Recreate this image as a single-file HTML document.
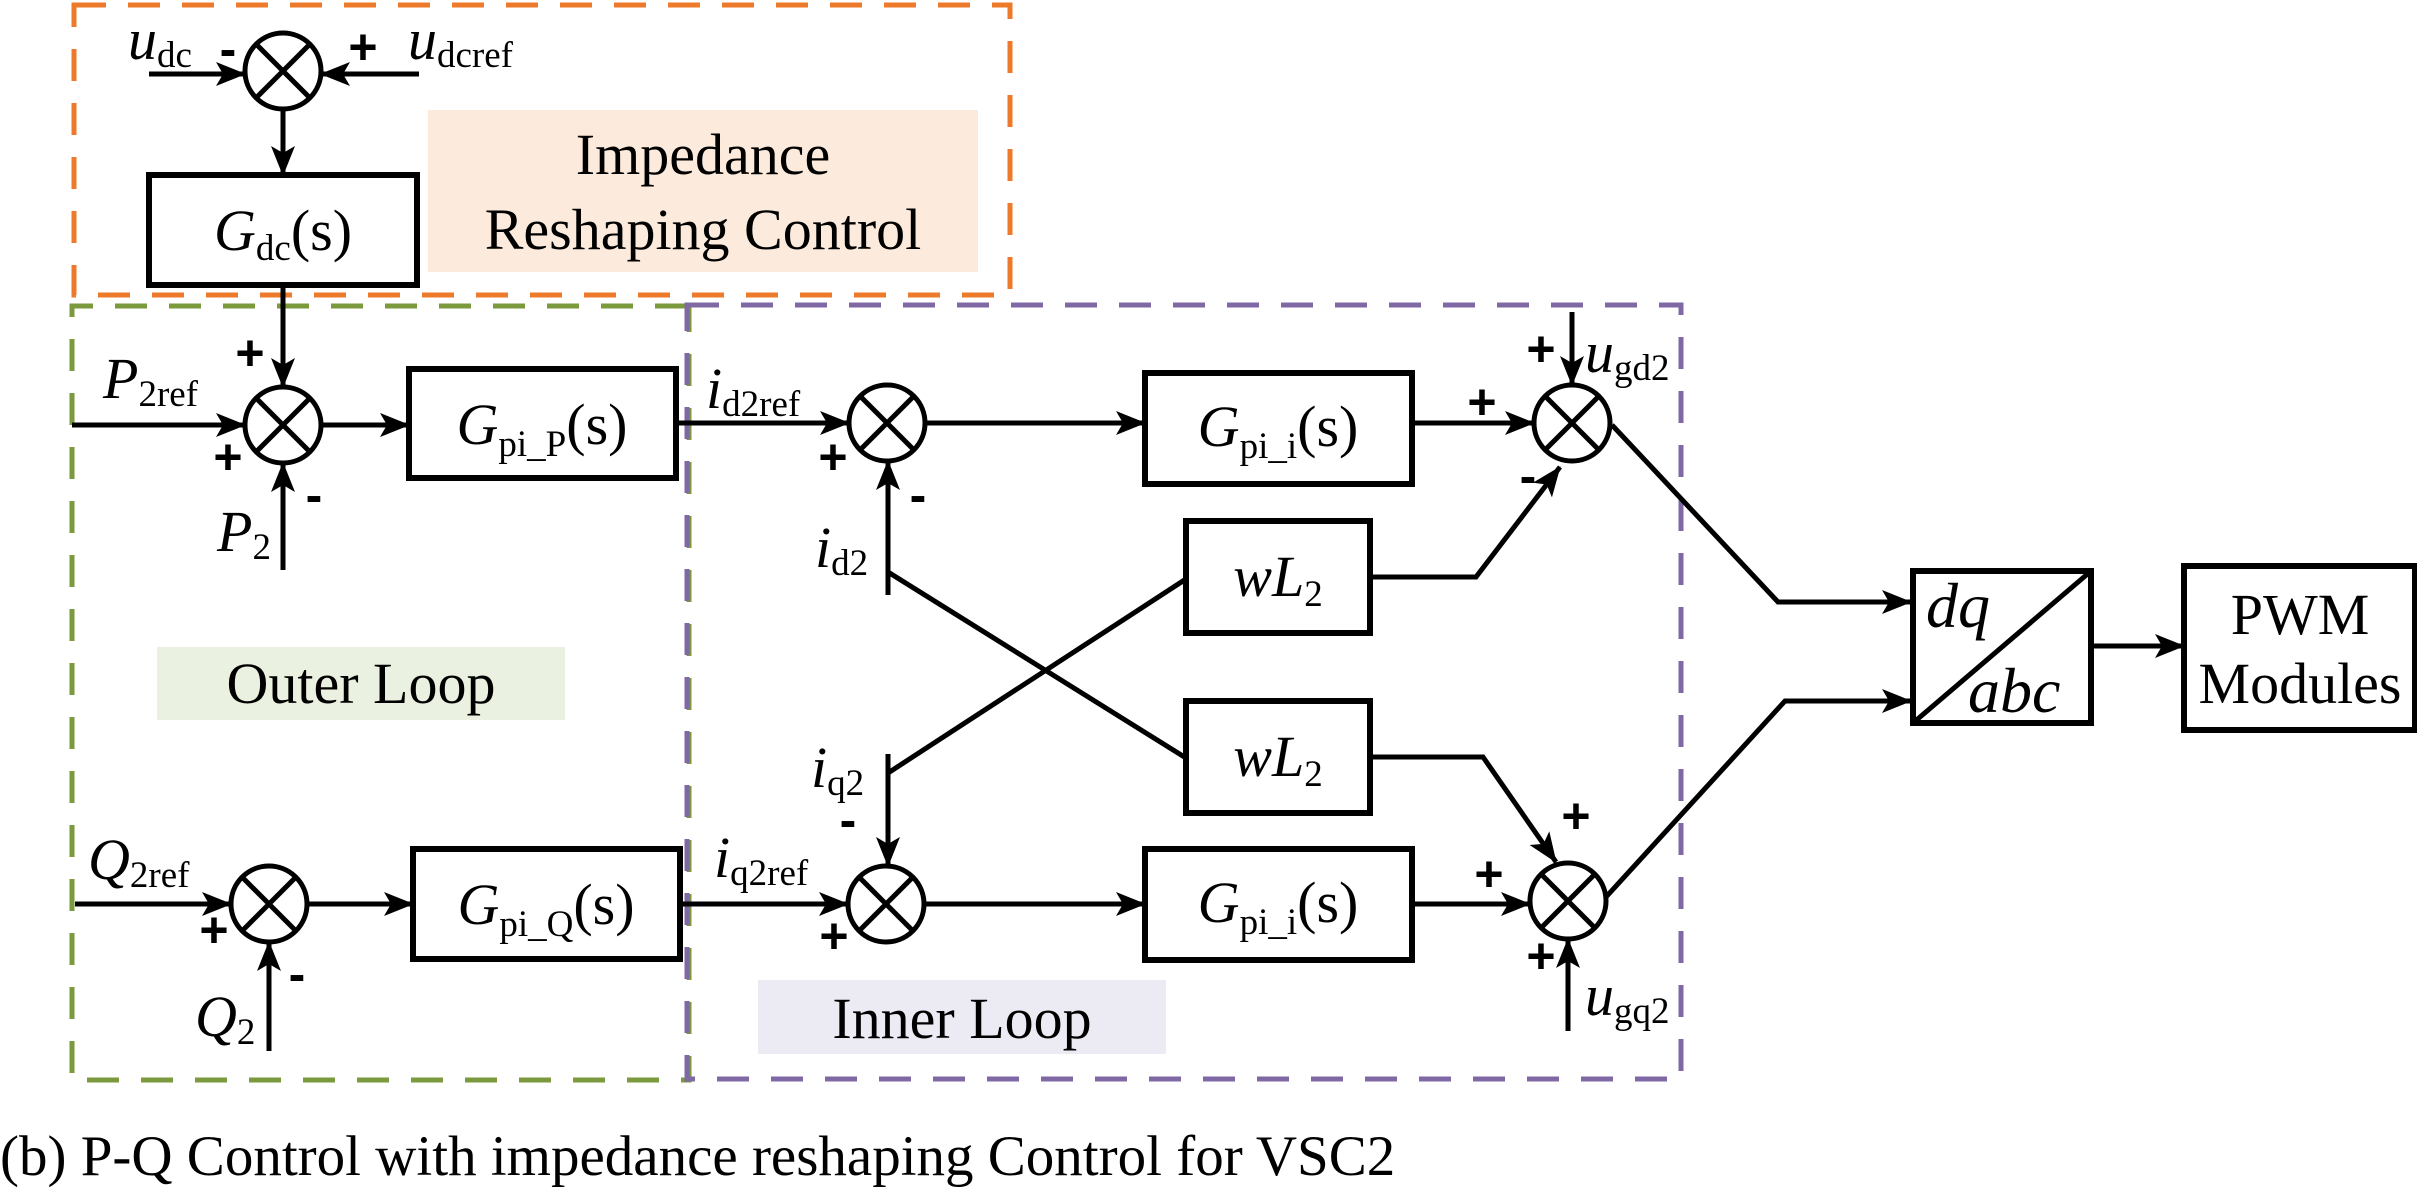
<!DOCTYPE html>
<html><head><meta charset="utf-8"><style>
html,body{margin:0;padding:0;background:#fff;}
svg{display:block;}
svg text{font-family:"Liberation Serif","Times New Roman",Times,serif !important;fill:#000;}
.l{font-size:58px;}
.s{font-size:37px;}
.i{font-style:italic;}
svg text.pm, .pm text{font-family:"Liberation Sans",Arial,sans-serif !important;font-size:50px;}
</style></head><body>
<svg width="2417" height="1191" viewBox="0 0 2417 1191" xmlns="http://www.w3.org/2000/svg" font-family="Liberation Serif, serif">
<defs>
<marker id="a" markerWidth="30" markerHeight="24" refX="29" refY="12" orient="auto" markerUnits="userSpaceOnUse" viewBox="0 0 30 24">
<path d="M0,0 L30,12 L0,24 L7,12 Z" fill="#000"/></marker>
</defs>
<style>
.ln{stroke:#000;stroke-width:5;fill:none;}
.bx{stroke:#000;stroke-width:6;fill:#fff;}
.c{stroke:#000;stroke-width:5;fill:#fff;}
</style>
<rect x="428" y="110" width="550" height="162" fill="#fcebdc"/>
<rect x="157" y="647" width="408" height="73" fill="#ebf1e0"/>
<rect x="758" y="980" width="408" height="74" fill="#ecebf3"/>
<rect x="74" y="5" width="936" height="290" fill="none" stroke="#ec7a2a" stroke-width="5" stroke-dasharray="32,22"/>
<polyline points="687,306 72,306 72,1080 689,1080 689,306" fill="none" stroke="#7b9a3e" stroke-width="5" stroke-dasharray="32,22"/>
<rect x="687" y="305" width="994" height="774" fill="none" stroke="#7f68a4" stroke-width="5" stroke-dasharray="32,22"/>

<g class="ln">
<line x1="149" y1="74" x2="245" y2="74" marker-end="url(#a)"/>
<line x1="419" y1="74" x2="321" y2="74" marker-end="url(#a)"/>
<line x1="283" y1="109" x2="283" y2="175" marker-end="url(#a)"/>
<line x1="283" y1="285" x2="283" y2="387" marker-end="url(#a)"/>
<line x1="72" y1="425" x2="245" y2="425" marker-end="url(#a)"/>
<line x1="321" y1="425" x2="409" y2="425" marker-end="url(#a)"/>
<line x1="283" y1="570" x2="283" y2="463" marker-end="url(#a)"/>
<line x1="676" y1="423" x2="849" y2="423" marker-end="url(#a)"/>
<line x1="925" y1="423" x2="1145" y2="423" marker-end="url(#a)"/>
<line x1="1412" y1="423" x2="1534" y2="423" marker-end="url(#a)"/>
<line x1="1572" y1="312" x2="1572" y2="385" marker-end="url(#a)"/>
<line x1="888" y1="595" x2="888" y2="461" marker-end="url(#a)"/>
<line x1="888" y1="572" x2="1186" y2="758"/>
<line x1="888" y1="754" x2="888" y2="866" marker-end="url(#a)"/>
<line x1="888" y1="773" x2="1186" y2="579"/>
<polyline points="1370,577 1476,577 1560,467" marker-end="url(#a)"/>
<polyline points="1370,757 1483,757 1556,862" marker-end="url(#a)"/>
<line x1="75" y1="904" x2="231" y2="904" marker-end="url(#a)"/>
<line x1="307" y1="904" x2="413" y2="904" marker-end="url(#a)"/>
<line x1="269" y1="1051" x2="269" y2="942" marker-end="url(#a)"/>
<line x1="680" y1="904" x2="848" y2="904" marker-end="url(#a)"/>
<line x1="924" y1="904" x2="1145" y2="904" marker-end="url(#a)"/>
<line x1="1412" y1="904" x2="1530" y2="904" marker-end="url(#a)"/>
<line x1="1568" y1="1031" x2="1568" y2="939" marker-end="url(#a)"/>
<polyline points="1612,425 1778,602 1911,602" marker-end="url(#a)"/>
<polyline points="1606,897 1785,701 1911,701" marker-end="url(#a)"/>
<line x1="2091" y1="646" x2="2184" y2="646" marker-end="url(#a)"/>
</g>

<g class="c">
<circle cx="283" cy="71" r="38"/>
<circle cx="283" cy="425" r="38"/>
<circle cx="887" cy="423" r="38"/>
<circle cx="1572" cy="423" r="38"/>
<circle cx="269" cy="904" r="38"/>
<circle cx="886" cy="904" r="38"/>
<circle cx="1568" cy="901" r="38"/>
</g>
<g stroke="#000" stroke-width="5">
<path d="M256,44 L310,98 M310,44 L256,98"/>
<path d="M256,398 L310,452 M310,398 L256,452"/>
<path d="M860,396 L914,450 M914,396 L860,450"/>
<path d="M1545,396 L1599,450 M1599,396 L1545,450"/>
<path d="M242,877 L296,931 M296,877 L242,931"/>
<path d="M859,877 L913,931 M913,877 L859,931"/>
<path d="M1541,874 L1595,928 M1595,874 L1541,928"/>
</g>

<rect class="bx" x="149" y="175" width="268" height="110"/>
<rect class="bx" x="409" y="369" width="267" height="109"/>
<rect class="bx" x="413" y="849" width="267" height="110"/>
<rect class="bx" x="1145" y="373" width="267" height="111"/>
<rect class="bx" x="1145" y="849" width="267" height="111"/>
<rect class="bx" x="1186" y="521" width="184" height="112"/>
<rect class="bx" x="1186" y="701" width="184" height="112"/>
<rect class="bx" x="1913" y="571" width="178" height="152"/>
<line x1="1913" y1="723" x2="2091" y2="571" stroke="#000" stroke-width="5"/>
<rect class="bx" x="2184" y="566" width="231" height="164"/>

<text class="l" x="703" y="174" text-anchor="middle">Impedance</text>
<text class="l" x="703" y="249" text-anchor="middle">Reshaping Control</text>
<text class="l" x="361" y="703" text-anchor="middle">Outer Loop</text>
<text class="l" x="962" y="1038" text-anchor="middle">Inner Loop</text>

<text class="l" x="283" y="250" text-anchor="middle"><tspan class="i">G</tspan><tspan class="s" dy="10">dc</tspan><tspan dy="-10">(s)</tspan></text>
<text class="l" x="542" y="444" text-anchor="middle"><tspan class="i">G</tspan><tspan class="s" dy="12">pi_P</tspan><tspan dy="-12">(s)</tspan></text>
<text class="l" x="546" y="924" text-anchor="middle"><tspan class="i">G</tspan><tspan class="s" dy="12">pi_Q</tspan><tspan dy="-12">(s)</tspan></text>
<text class="l" x="1278" y="446" text-anchor="middle"><tspan class="i">G</tspan><tspan class="s" dy="12">pi_i</tspan><tspan dy="-12">(s)</tspan></text>
<text class="l" x="1278" y="922" text-anchor="middle"><tspan class="i">G</tspan><tspan class="s" dy="12">pi_i</tspan><tspan dy="-12">(s)</tspan></text>
<text class="l i" x="1278" y="596" text-anchor="middle">wL<tspan class="s" style="font-style:normal" dy="10">2</tspan></text>
<text class="l i" x="1278" y="776" text-anchor="middle">wL<tspan class="s" style="font-style:normal" dy="10">2</tspan></text>
<text class="l i" x="1926" y="627" style="font-size:64px">dq</text>
<text class="l i" x="1968" y="712" style="font-size:64px">abc</text>
<text class="l" x="2300" y="634" text-anchor="middle">PWM</text>
<text class="l" x="2300" y="703" text-anchor="middle">Modules</text>

<text class="l i" x="128" y="59">u<tspan class="s" style="font-style:normal" dy="8">dc</tspan></text>
<text class="l i" x="408" y="59">u<tspan class="s" style="font-style:normal" dy="8">dcref</tspan></text>
<text class="l i" x="103" y="398">P<tspan class="s" style="font-style:normal" dy="8">2ref</tspan></text>
<text class="l i" x="217" y="551">P<tspan class="s" style="font-style:normal" dy="8">2</tspan></text>
<text class="l i" x="706" y="408">i<tspan class="s" style="font-style:normal" dy="8">d2ref</tspan></text>
<text class="l i" x="815" y="567">i<tspan class="s" style="font-style:normal" dy="8">d2</tspan></text>
<text class="l i" x="811" y="787">i<tspan class="s" style="font-style:normal" dy="8">q2</tspan></text>
<text class="l i" x="714" y="877">i<tspan class="s" style="font-style:normal" dy="8">q2ref</tspan></text>
<text class="l i" x="88" y="879">Q<tspan class="s" style="font-style:normal" dy="8">2ref</tspan></text>
<text class="l i" x="195" y="1036">Q<tspan class="s" style="font-style:normal" dy="8">2</tspan></text>
<text class="l i" x="1585" y="372">u<tspan class="s" style="font-style:normal" dy="8">gd2</tspan></text>
<text class="l i" x="1585" y="1015">u<tspan class="s" style="font-style:normal" dy="8">gq2</tspan></text>

<g class="pm" text-anchor="middle" font-weight="bold">
<text x="228" y="66">-</text>
<text x="363" y="64">+</text>
<text x="250" y="370">+</text>
<text x="228" y="474">+</text>
<text x="314" y="512">-</text>
<text x="833" y="474">+</text>
<text x="918" y="512">-</text>
<text x="1541" y="366">+</text>
<text x="1482" y="419">+</text>
<text x="1528" y="493">-</text>
<text x="214" y="947">+</text>
<text x="297" y="991">-</text>
<text x="848" y="837">-</text>
<text x="834" y="953">+</text>
<text x="1576" y="833">+</text>
<text x="1489" y="891">+</text>
<text x="1541" y="973">+</text>
</g>

<text x="0" y="1175" style="font-size:57px">(b) P-Q Control with impedance reshaping Control for VSC2</text>
</svg>
</body></html>
